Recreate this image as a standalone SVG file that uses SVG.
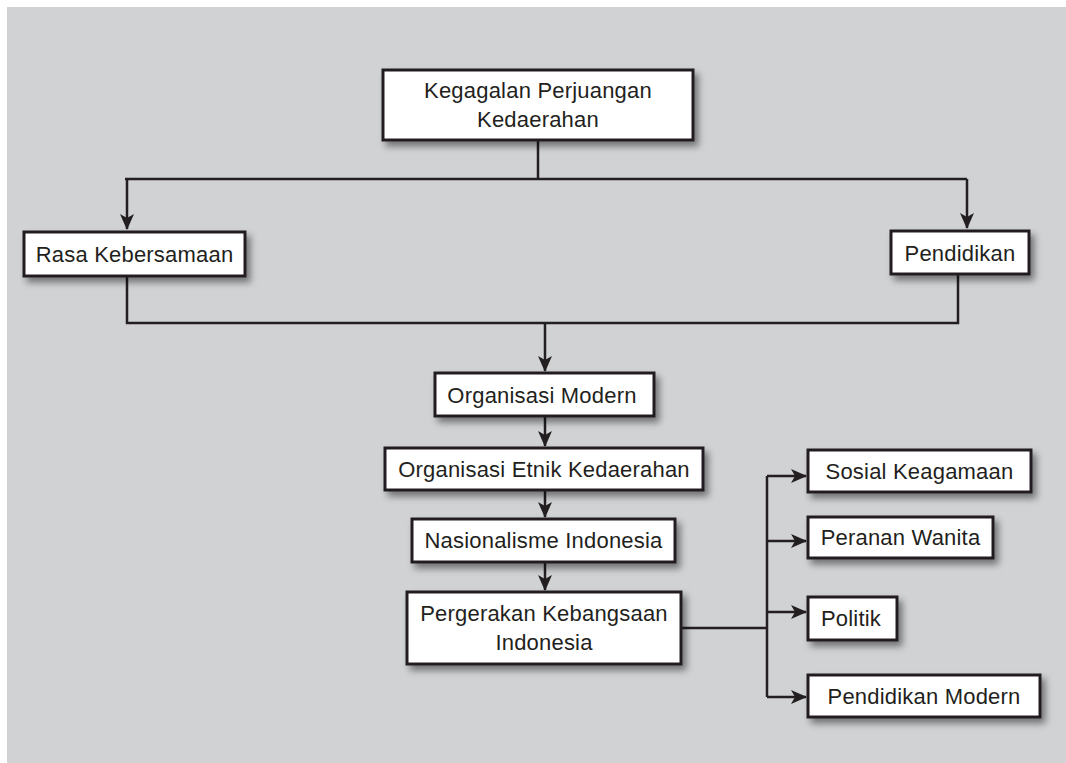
<svg xmlns="http://www.w3.org/2000/svg" width="1066" height="763" viewBox="0 0 1066 763">
<style>
.box{fill:#fff;stroke:#231f20;stroke-width:3;filter:url(#sh)}
.t{font-family:"Liberation Sans",Arial,sans-serif;font-size:22px;fill:#231f20;text-anchor:middle;letter-spacing:0.2px}
.c{fill:none;stroke:#231f20;stroke-width:2.5}
</style>
<defs>
<filter id="sh" x="-20%" y="-30%" width="140%" height="170%">
<feDropShadow dx="4" dy="5" stdDeviation="3.5" flood-color="#000" flood-opacity="0.45"/>
</filter>
<marker id="ah" viewBox="0 0 16 14" refX="15" refY="7" markerWidth="16" markerHeight="14" markerUnits="userSpaceOnUse" orient="auto">
<path d="M0,0 L16,7 L0,14 L4,7 Z" fill="#231f20"/>
</marker>
</defs>
<rect x="7" y="7" width="1059" height="756" fill="#d1d2d4"/>
<g id="connectors">
<path class="c" d="M538,140 V179"/>
<path class="c" d="M125,179 H967"/>
<path class="c" d="M127,179 V229" marker-end="url(#ah)"/>
<path class="c" d="M967,179 V228" marker-end="url(#ah)"/>
<path class="c" d="M127,276 V323 H958 V274"/>
<path class="c" d="M545,323 V371" marker-end="url(#ah)"/>
<path class="c" d="M545,416 V446" marker-end="url(#ah)"/>
<path class="c" d="M545,490 V517" marker-end="url(#ah)"/>
<path class="c" d="M545,562 V590" marker-end="url(#ah)"/>
<path class="c" d="M681,628 H767"/>
<path class="c" d="M767,476 V697"/>
<path class="c" d="M767,476 H806" marker-end="url(#ah)"/>
<path class="c" d="M767,541 H806" marker-end="url(#ah)"/>
<path class="c" d="M767,612 H806" marker-end="url(#ah)"/>
<path class="c" d="M767,697 H806" marker-end="url(#ah)"/>
</g>
<g id="n-kegagalan"><rect class="box" x="383" y="70" width="310" height="70"/><text class="t" x="538" y="98">Kegagalan Perjuangan</text><text class="t" x="538" y="127">Kedaerahan</text></g>
<g id="n-rasa"><rect class="box" x="24" y="232" width="221" height="44"/><text class="t" x="134.5" y="262">Rasa Kebersamaan</text></g>
<g id="n-pendidikan"><rect class="box" x="891" y="231" width="138" height="43"/><text class="t" x="960" y="261">Pendidikan</text></g>
<g id="n-orgmodern"><rect class="box" x="435" y="373" width="219" height="43"/><text class="t" x="542" y="403">Organisasi Modern</text></g>
<g id="n-orgetnik"><rect class="box" x="385" y="448" width="318" height="42"/><text class="t" x="544" y="477">Organisasi Etnik Kedaerahan</text></g>
<g id="n-nasionalisme"><rect class="box" x="412" y="519" width="263" height="43"/><text class="t" x="543.5" y="548">Nasionalisme Indonesia</text></g>
<g id="n-pergerakan"><rect class="box" x="407" y="592" width="274" height="72"/><text class="t" x="544" y="621">Pergerakan Kebangsaan</text><text class="t" x="544" y="650">Indonesia</text></g>
<g id="n-sosial"><rect class="box" x="808" y="450" width="223" height="42"/><text class="t" x="919.5" y="479">Sosial Keagamaan</text></g>
<g id="n-peranan"><rect class="box" x="808" y="517" width="185" height="41"/><text class="t" x="900.5" y="545">Peranan Wanita</text></g>
<g id="n-politik"><rect class="box" x="808" y="597" width="89" height="43"/><text class="t" x="851" y="626">Politik</text></g>
<g id="n-pendmodern"><rect class="box" x="808" y="675" width="232" height="42"/><text class="t" x="924" y="704">Pendidikan Modern</text></g>
</svg>
